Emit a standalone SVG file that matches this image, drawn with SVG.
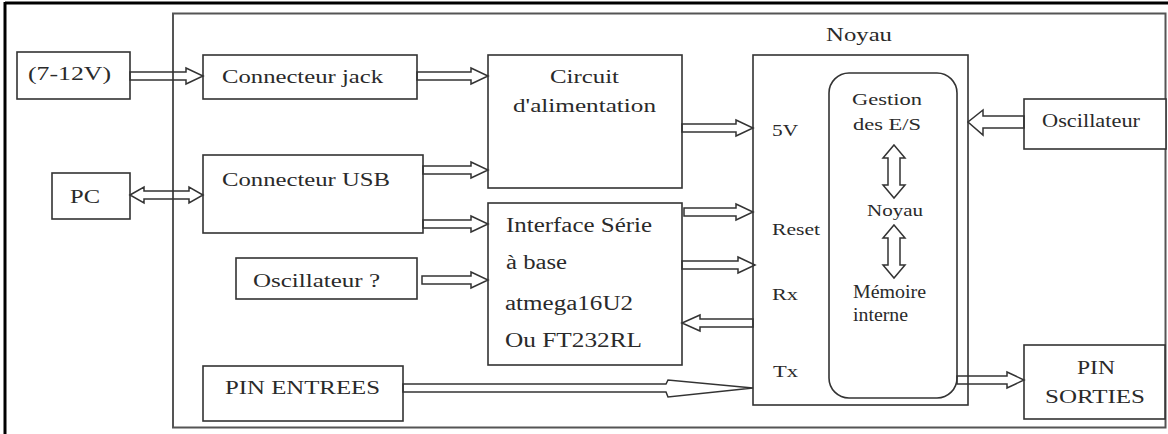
<svg xmlns="http://www.w3.org/2000/svg" width="1168" height="434" viewBox="0 0 1168 434">
<style>
.box{fill:#fff;stroke:#333;stroke-width:1.6}
.frame{fill:none;stroke:#555;stroke-width:2}
.arr{fill:none;stroke:#333;stroke-width:1.5;stroke-linejoin:miter}
text{fill:#2a2a2a;font-size:19px}
.s{font-size:17px}
.m{font-size:20px}
</style>
<rect width="1168" height="434" fill="#fff"/>
<line x1="5" y1="3" x2="1168" y2="3" stroke="#000" stroke-width="3"/>
<line x1="5" y1="2" x2="5" y2="434" stroke="#000" stroke-width="3"/>
<rect class="frame" x="173" y="13.5" width="992.5" height="414"/>

<g font-family="'Liberation Serif', 'Times New Roman', Times, serif">
<g id="n_vin"><rect class="box" x="17" y="52" width="113" height="47"/><text x="28" y="80" textLength="83" lengthAdjust="spacingAndGlyphs">(7-12V)</text></g>
<g id="n_jack"><rect class="box" x="203" y="55" width="214" height="44"/><text x="222" y="83" textLength="161" lengthAdjust="spacingAndGlyphs">Connecteur jack</text></g>
<g id="n_pc"><rect class="box" x="52" y="173" width="78" height="46"/><text x="70" y="203" textLength="30" lengthAdjust="spacingAndGlyphs">PC</text></g>
<g id="n_usb"><rect class="box" x="203" y="155" width="220" height="78"/><text x="222" y="186" textLength="168" lengthAdjust="spacingAndGlyphs">Connecteur USB</text></g>
<g id="n_alim"><rect class="box" x="488" y="55" width="194" height="133"/><text x="550" y="83" textLength="69" lengthAdjust="spacingAndGlyphs">Circuit</text><text x="513" y="112" textLength="143" lengthAdjust="spacingAndGlyphs">d'alimentation</text></g>
<g id="n_iface"><rect class="box" x="488" y="203" width="194" height="162"/><text class="m" x="506" y="232" textLength="146" lengthAdjust="spacingAndGlyphs">Interface Série</text><text class="m" x="506" y="269" textLength="61" lengthAdjust="spacingAndGlyphs">à base</text><text class="m" x="505" y="310" textLength="128" lengthAdjust="spacingAndGlyphs">atmega16U2</text><text class="m" x="505" y="347" textLength="137" lengthAdjust="spacingAndGlyphs">Ou FT232RL</text></g>
<g id="n_osc2"><rect class="box" x="236" y="258" width="181" height="41"/><text x="253" y="287" textLength="127" lengthAdjust="spacingAndGlyphs">Oscillateur ?</text></g>
<g id="n_pinin"><rect class="box" x="203" y="366" width="200" height="55"/><text x="225" y="394" textLength="155" lengthAdjust="spacingAndGlyphs">PIN ENTREES</text></g>
<g id="n_noyau"><text x="826" y="41" textLength="66" lengthAdjust="spacingAndGlyphs">Noyau</text><rect class="box" x="753" y="55" width="215" height="350"/><text class="s" x="772" y="136" textLength="26" lengthAdjust="spacingAndGlyphs">5V</text><text class="s" x="772" y="235" textLength="48" lengthAdjust="spacingAndGlyphs">Reset</text><text class="s" x="772" y="300" textLength="26" lengthAdjust="spacingAndGlyphs">Rx</text><text class="s" x="773" y="377" textLength="25" lengthAdjust="spacingAndGlyphs">Tx</text></g>
<g id="n_core"><rect class="box" x="829" y="73" width="128" height="325" rx="20" ry="20"/><text class="s" x="852" y="105" textLength="70" lengthAdjust="spacingAndGlyphs">Gestion</text><text class="s" x="853" y="130" textLength="68" lengthAdjust="spacingAndGlyphs">des E/S</text><text class="s" x="867" y="216" textLength="56" lengthAdjust="spacingAndGlyphs">Noyau</text><text x="853" y="298" font-size="16" textLength="73" lengthAdjust="spacingAndGlyphs">Mémoire</text><text x="853" y="321" font-size="16" textLength="55" lengthAdjust="spacingAndGlyphs">interne</text></g>
<g id="n_osc1"><rect class="box" x="1024" y="99" width="142" height="50"/><text x="1042" y="127" textLength="98" lengthAdjust="spacingAndGlyphs">Oscillateur</text></g>
<g id="n_pinout"><rect class="box" x="1024" y="345" width="141" height="74"/><text x="1077" y="374" textLength="38" lengthAdjust="spacingAndGlyphs">PIN</text><text x="1045" y="403" textLength="100" lengthAdjust="spacingAndGlyphs">SORTIES</text></g>
</g>

<g id="connectors">
<polygon class="arr" points="130,72 186,72 186,68 203,76 186,84 186,80 130,80"/>
<polygon class="arr" points="417,72 471,72 471,68 488,76 471,84 471,80 417,80"/>
<polygon class="arr" points="423,166 471,166 471,162 488,170 471,178 471,174 423,174"/>
<polygon class="arr" points="130,195 144,187 144,191 189,191 189,187 203,195 189,203 189,199 144,199 144,203"/>
<polygon class="arr" points="423,220 471,220 471,216 488,224 471,232 471,228 423,228"/>
<polygon class="arr" points="422,276 471,276 471,272 488,280 471,288 471,284 422,284"/>
<polygon class="arr" points="682,124 736,124 736,120 753,128 736,136 736,132 682,132"/>
<polygon class="arr" points="684,208 736,208 736,204 753,212 736,220 736,216 684,216"/>
<polygon class="arr" points="682,261 738,261 738,257 755,265 738,273 738,269 682,269"/>
<polygon class="arr" points="753,319 700,319 700,315 682,323 700,331 700,327 753,327"/>
<polygon class="arr" points="403,384 666,384 668,380 753,388 668,397 666,392 403,392"/>
<polygon class="arr" points="1024,116 983,116 983,110 968,122 983,135 983,128 1024,128"/>
<polygon class="arr" points="957,376 1007,376 1007,372 1024,380 1007,388 1007,384 957,384"/>
<polygon class="arr" points="894,145 905,158 900,158 900,185 905,185 894,198 883,185 888,185 888,158 883,158"/>
<polygon class="arr" points="894,225 905,238 900,238 900,265 905,265 894,278 883,265 888,265 888,238 883,238"/>
</g>
</svg>
